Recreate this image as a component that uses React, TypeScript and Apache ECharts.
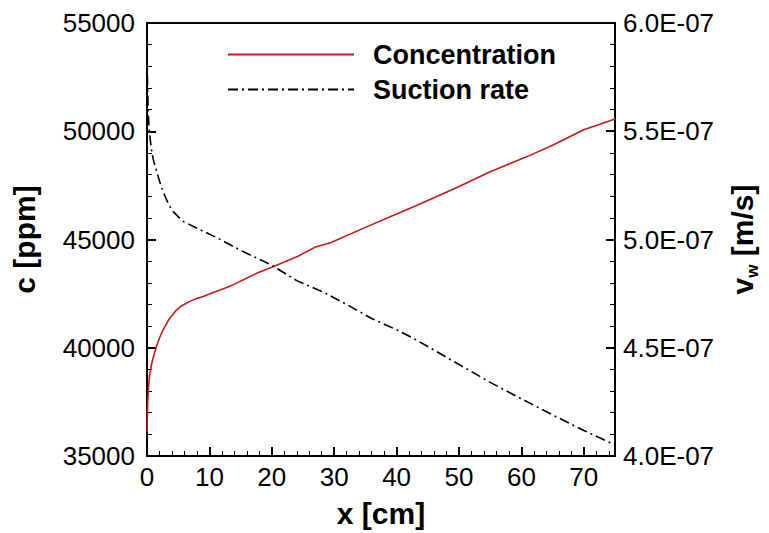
import React, { useEffect, useRef } from "react";
import * as echarts from "echarts";

const concX = [0, 0.1, 0.2, 0.4, 0.74, 1.0, 1.53, 2.0, 2.58, 3.5, 4.69, 5.5, 6.79, 8.0, 8.9, 10, 13.6, 17.85, 20, 24.2, 27, 29.4, 35, 40, 43.1, 49.4, 55, 61, 65, 70, 75];
const concY = [36100, 37300, 38050, 38700, 39250, 39550, 40080, 40450, 40830, 41300, 41730, 41930, 42130, 42280, 42360, 42480, 42880, 43480, 43720, 44230, 44650, 44850, 45560, 46180, 46560, 47370, 48130, 48840, 49350, 50070, 50570];

const suctX = [0, 0.1, 0.2, 0.4, 0.74, 1.0, 1.53, 2.0, 2.58, 3.5, 4.16, 5.74, 8.37, 11.3, 15, 19.95, 24, 28.4, 32, 36, 40, 42.6, 50, 55, 60, 65, 70, 75];
const suctY = [5.85e-7, 5.70e-7, 5.58e-7, 5.49e-7, 5.41e-7, 5.37e-7, 5.317e-7, 5.27e-7, 5.22e-7, 5.16e-7, 5.13e-7, 5.084e-7, 5.047e-7, 5.007e-7, 4.95e-7, 4.882e-7, 4.81e-7, 4.755e-7, 4.70e-7, 4.635e-7, 4.583e-7, 4.545e-7, 4.423e-7, 4.34e-7, 4.264e-7, 4.19e-7, 4.118e-7, 4.051e-7];

const seriesNames = ["Concentration", "Suction rate"];
const FONT = "'Liberation Sans', Arial, Helvetica, sans-serif";

function fmtE(v: number): string {
  const s = v.toExponential(1);
  const [m, e] = s.split("e");
  const n = parseInt(e, 10);
  const d = Math.abs(n).toString().padStart(2, "0");
  return `${m}E${n < 0 ? "-" : "+"}${d}`;
}

export default function App() {
  const ref = useRef<HTMLDivElement>(null);
  useEffect(() => {
    if (!ref.current) return;
    const chart = echarts.init(ref.current, undefined, { renderer: "svg" });
    const axisLine = { show: true, lineStyle: { color: "#000", width: 2 } };
    const label = { color: "#000", fontSize: 26, fontFamily: FONT };
    const titleStyle = { color: "#000", fontSize: 30, fontWeight: "bold", fontFamily: FONT };
    chart.setOption({
      animation: false,
      backgroundColor: "#fff",
      grid: {
        left: 147,
        top: 23,
        right: 147,
        bottom: 65,
        show: true,
        borderColor: "#000",
        borderWidth: 2,
      },
      legend: {
        data: seriesNames,
        orient: "vertical",
        left: 222,
        top: 36,
        itemWidth: 126,
        itemHeight: 14,
        itemGap: 8,
        itemStyle: { opacity: 0 },
        textStyle: { color: "#000", fontSize: 27, fontWeight: "bold", fontFamily: FONT, padding: [0, 0, 0, 14] },
      },
      xAxis: {
        type: "value",
        min: 0,
        max: 75,
        interval: 10,
        name: "x [cm]",
        nameLocation: "middle",
        nameGap: 42,
        nameTextStyle: titleStyle,
        axisLine,
        axisTick: { show: true, inside: true, length: 9, lineStyle: { color: "#000", width: 2 } },
        minorTick: { show: true, splitNumber: 5, length: 5, lineStyle: { color: "#000", width: 1 } },
        splitLine: { show: false },
        axisLabel: { ...label, margin: 8, showMaxLabel: false, formatter: (v: number) => String(v) },
      },
      yAxis: [
        {
          type: "value",
          position: "left",
          min: 35000,
          max: 55000,
          interval: 5000,
          name: "c [ppm]",
          nameLocation: "middle",
          nameGap: 108,
          nameRotate: 90,
          nameTextStyle: titleStyle,
          axisLine,
          axisTick: { show: true, inside: true, length: 9, lineStyle: { color: "#000", width: 2 } },
          minorTick: { show: true, splitNumber: 5, length: 5, lineStyle: { color: "#000", width: 1 } },
          splitLine: { show: false },
          axisLabel: { ...label, margin: 12, formatter: (v: number) => String(v) },
        },
        {
          type: "value",
          position: "right",
          min: 4e-7,
          max: 6e-7,
          interval: 5e-8,
          name: "{v|v}{w|w}{v| [m/s]}",
          nameLocation: "middle",
          nameGap: 112,
          nameRotate: 90,
          nameTextStyle: {
            color: "#000",
            fontFamily: FONT,
            rich: {
              v: { fontSize: 30, fontWeight: "bold", fontFamily: FONT, color: "#000" },
              w: { fontSize: 17, fontWeight: "bold", fontFamily: FONT, color: "#000", verticalAlign: "bottom", padding: [0, 0, -4, 0] },
            },
          },
          axisLine,
          axisTick: { show: true, inside: true, length: 9, lineStyle: { color: "#000", width: 2 } },
          minorTick: { show: true, splitNumber: 5, length: 5, lineStyle: { color: "#000", width: 1 } },
          splitLine: { show: false },
          axisLabel: { ...label, margin: 8, formatter: (v: number) => fmtE(v) },
        },
      ],
      series: [
        {
          name: seriesNames[0],
          type: "line",
          yAxisIndex: 0,
          symbol: "none",
          smooth: false,
          data: concX.map((x, i) => [x, concY[i]]),
          lineStyle: { color: "#c41a1a", width: 1.6 },
          itemStyle: { color: "#c41a1a" },
        },
        {
          name: seriesNames[1],
          type: "line",
          yAxisIndex: 1,
          symbol: "none",
          smooth: false,
          data: suctX.map((x, i) => [x, suctY[i]]),
          lineStyle: { color: "#000", width: 1.6, type: [10, 4, 2, 4] },
          itemStyle: { color: "#000" },
        },
      ],
    });
    return () => chart.dispose();
  }, []);
  return <div ref={ref} style={{ position: "fixed", left: 0, top: 0, width: 769, height: 533 }} />;
}
